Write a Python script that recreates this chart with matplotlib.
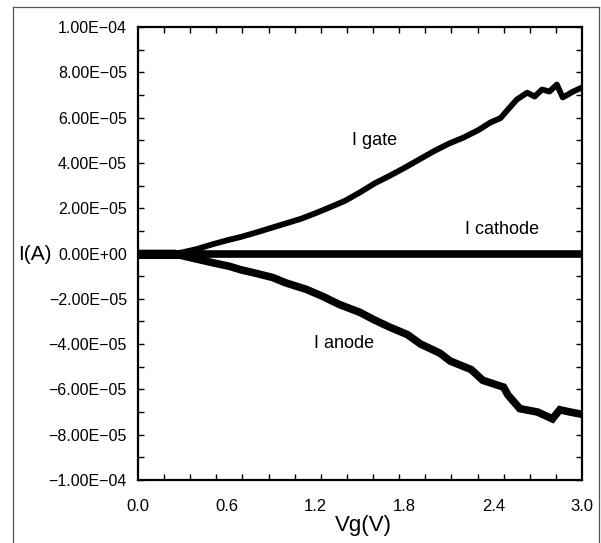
import numpy as np
import matplotlib
matplotlib.use('Agg')
import matplotlib.pyplot as plt
from matplotlib.lines import Line2D

plt.rcParams['font.family'] = ['Liberation Sans', 'DejaVu Sans']

# gate current (units of 1e-5 A) vs Vg
vg_gate = [0, 0.25, 0.3, 0.4, 0.5, 0.6, 0.7, 0.8, 0.9, 1.0, 1.1, 1.2, 1.3, 1.4,
           1.5, 1.6, 1.7, 1.8, 1.9, 2.0, 2.1, 2.2, 2.3, 2.38, 2.45, 2.5, 2.56,
           2.63, 2.68, 2.73, 2.78, 2.83, 2.87, 2.94, 3.0]
i_gate = [0, 0, 0.05, 0.2, 0.4, 0.58, 0.74, 0.93, 1.13, 1.33, 1.53, 1.78, 2.05,
          2.33, 2.7, 3.1, 3.43, 3.78, 4.15, 4.52, 4.85, 5.12, 5.45, 5.78, 5.98,
          6.36, 6.8, 7.1, 6.93, 7.24, 7.15, 7.46, 6.89, 7.15, 7.33]

# anode current
vg_anode = [0, 0.25, 0.3, 0.4, 0.5, 0.62, 0.69, 0.8, 0.91, 1.0, 1.14, 1.25, 1.36,
            1.5, 1.59, 1.7, 1.82, 1.91, 2.04, 2.11, 2.25, 2.33, 2.47, 2.5, 2.58,
            2.7, 2.8, 2.85, 2.92, 3.0]
i_anode = [0, 0, -0.1, -0.25, -0.4, -0.57, -0.71, -0.88, -1.06, -1.3, -1.59, -1.9,
           -2.25, -2.6, -2.91, -3.25, -3.58, -4.0, -4.4, -4.75, -5.12, -5.6, -5.9,
           -6.25, -6.85, -7.0, -7.3, -6.9, -7.0, -7.1]

# cathode current
vg_cathode = [0, 3.0]
i_cathode = [0, 0]

yticks = [-10, -8, -6, -4, -2, 0, 2, 4, 6, 8, 10]
ytick_labels = ['\u22121.00E\u221204', '\u22128.00E\u221205', '\u22126.00E\u221205',
                '\u22124.00E\u221205', '\u22122.00E\u221205', '0.00E+00',
                '2.00E\u221205', '4.00E\u221205', '6.00E\u221205', '8.00E\u221205',
                '1.00E\u221204']
xticks = [0.0, 0.6, 1.2, 1.8, 2.4, 3.0]
xtick_labels = ['0.0', '0.6', '1.2', '1.8', '2.4', '3.0']

fig = plt.figure(figsize=(6.01, 5.43), dpi=100)
ax = fig.add_axes([138/601, 1 - 480/543, 444/601, 453/543])

ax.plot(vg_cathode, i_cathode, color='black', lw=5.5, solid_capstyle='butt')
ax.plot(vg_gate, i_gate, color='black', lw=4.2, solid_joinstyle='round')
ax.plot(vg_anode, i_anode, color='black', lw=5.5, solid_joinstyle='miter')
ax.plot([0, 0.3], [0, 0], color='black', lw=6.5, solid_capstyle='butt')

ax.set_xlim(0, 3.0)
ax.set_ylim(-10, 10)

ax.set_yticks(yticks)
ax.set_yticklabels(ytick_labels, fontsize=11.5)
ax.set_yticks(np.arange(-10, 10.1, 1), minor=True)
ax.set_xticks(xticks)
ax.set_xticklabels(xtick_labels, fontsize=12)
ax.set_xticks(np.arange(0, 3.0, 3.0/17), minor=True)

ax.tick_params(axis='y', which='both', direction='in', length=4, width=1,
               left=True, right=True, pad=8)
ax.tick_params(axis='x', which='major', length=0, pad=14)
ax.tick_params(axis='x', which='minor', direction='in', length=4, width=1,
               bottom=True, top=True)

for s in ax.spines.values():
    s.set_linewidth(1.6)

ax.text(1.60, 5.0, 'I gate', fontsize=13, ha='center', va='center')
ax.text(2.46, 1.06, 'I cathode', fontsize=13, ha='center', va='center')
ax.text(1.39, -3.97, 'I anode', fontsize=13, ha='center', va='center')

fig.text(18/601, 1 - 254/543, 'I(A)', fontsize=15, ha='left', va='center')
fig.text(363/601, 1 - 526/543, 'Vg(V)', fontsize=16, ha='center', va='center')

# outer frame of the scanned figure
fig.add_artist(Line2D([13/601, 13/601], [0, 1 - 7/543], color='#555555', lw=0.9,
                      transform=fig.transFigure))
fig.add_artist(Line2D([13/601, 599/601], [1 - 7/543, 1 - 7/543], color='#555555',
                      lw=0.9, transform=fig.transFigure))
fig.add_artist(Line2D([599/601, 599/601], [0, 1 - 7/543], color='#555555', lw=0.9,
                      transform=fig.transFigure))

fig.savefig('out.png', dpi=100)
